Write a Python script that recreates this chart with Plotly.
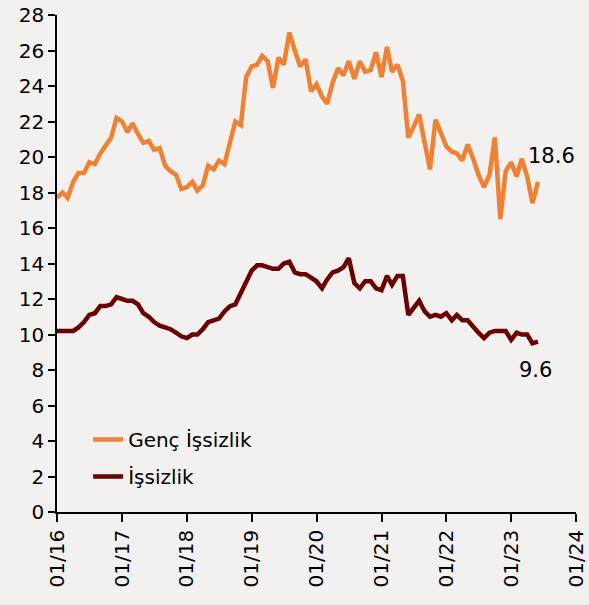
import plotly.graph_objects as go
import pandas as pd

months = pd.date_range("2016-01-01", periods=90, freq="MS")

genc_issizlik = [
    17.7, 18.0, 17.7, 18.6, 19.1, 19.1, 19.7, 19.6, 20.2, 20.7, 21.1, 22.2,
    22.0, 21.4, 21.9, 21.3, 20.8, 20.9, 20.4, 20.5, 19.5, 19.2, 19.0, 18.2,
    18.3, 18.6, 18.1, 18.4, 19.5, 19.3, 19.8, 19.6, 20.8, 22.0, 21.8, 24.5,
    25.1, 25.2, 25.7, 25.4, 23.9, 25.6, 25.2, 27.0, 26.0, 25.1, 25.5, 23.7,
    24.1, 23.4, 23.0, 24.2, 25.0, 24.6, 25.4, 24.4, 25.4, 24.8, 24.9, 25.9,
    24.5, 26.2, 24.8, 25.2, 24.3, 21.1, 21.7, 22.4, 20.8, 19.3, 22.1, 21.3,
    20.6, 20.3, 20.2, 19.8, 20.7, 19.9, 19.0, 18.3, 19.0, 21.1, 16.5, 19.2,
    19.7, 18.9, 19.9, 18.9, 17.4, 18.6,
]

issizlik = [
    10.2, 10.2, 10.2, 10.2, 10.4, 10.7, 11.1, 11.2, 11.6, 11.6, 11.7, 12.1,
    12.0, 11.9, 11.9, 11.7, 11.2, 11.0, 10.7, 10.5, 10.4, 10.3, 10.1, 9.9,
    9.8, 10.0, 10.0, 10.3, 10.7, 10.8, 10.9, 11.3, 11.6, 11.7, 12.3, 12.9,
    13.6, 13.9, 13.9, 13.8, 13.7, 13.7, 14.0, 14.1, 13.5, 13.4, 13.4, 13.2,
    13.0, 12.6, 13.1, 13.5, 13.6, 13.8, 14.3, 12.9, 12.6, 13.0, 13.0, 12.6,
    12.5, 13.3, 12.8, 13.3, 13.3, 11.1, 11.5, 11.9, 11.3, 11.0, 11.1, 11.0,
    11.2, 10.8, 11.1, 10.8, 10.8, 10.4, 10.1, 9.8, 10.1, 10.2, 10.2, 10.2,
    9.7, 10.1, 10.0, 10.0, 9.5, 9.6,
]

tick_dates = [f"{y}-01-01" for y in range(2016, 2025)]
tick_labels = [f"01/{str(y)[2:]}" for y in range(2016, 2025)]

ORANGE = "#F08132"
DARKRED = "#6B0000"
BG = "#F3F1F0"
FONT = "DejaVu Sans"

fig = go.Figure()
fig.add_trace(go.Scatter(
    x=months, y=genc_issizlik, mode="lines", name="Genç İşsizlik",
    line=dict(color=ORANGE, width=4.5), legendgroup="a",
))
fig.add_trace(go.Scatter(
    x=months, y=issizlik, mode="lines", name="İşsizlik",
    line=dict(color=DARKRED, width=4.5), legendgroup="b",
))

fig.add_annotation(x=months[-1], y=genc_issizlik[-1], text=f"{genc_issizlik[-1]:.1f}",
                   showarrow=False, xanchor="left", yanchor="middle",
                   xshift=-12, yshift=26, font=dict(size=21, color="black", family=FONT))
fig.add_annotation(x=months[-1], y=issizlik[-1], text=f"{issizlik[-1]:.1f}",
                   showarrow=False, xanchor="center", yanchor="middle",
                   xshift=-2, yshift=-28, font=dict(size=21, color="black", family=FONT))

fig.update_layout(
    width=589, height=605,
    margin=dict(l=57, r=13, t=15, b=93),
    paper_bgcolor=BG, plot_bgcolor=BG,
    font=dict(family=FONT, size=20, color="black"),
    showlegend=True,
    legend=dict(x=0.06, y=0.185, xanchor="left", yanchor="top",
                bgcolor="rgba(0,0,0,0)", tracegroupgap=8,
                font=dict(size=20, family=FONT)),
    xaxis=dict(
        type="date", range=["2016-01-01", "2024-01-01"], automargin=False,
        tickmode="array", tickvals=tick_dates, ticktext=tick_labels,
        tickangle=-90, ticks="outside", ticklen=8, tickwidth=1.5, tickcolor="black",
        showline=True, linecolor="black", linewidth=1.5,
        showgrid=False, zeroline=False,
        tickfont=dict(size=20, family=FONT),
    ),
    yaxis=dict(
        range=[0, 28], tickmode="array", tickvals=list(range(0, 29, 2)), automargin=False,
        ticks="outside", ticklen=7, tickwidth=1.5, tickcolor="black",
        showline=True, linecolor="black", linewidth=1.5,
        showgrid=False, zeroline=False,
        tickfont=dict(size=20, family=FONT),
    ),
)

fig.write_html(
    "out.html",
    config={"displayModeBar": False},
    post_script="document.body.style.margin='0';document.body.style.background='%s';" % BG,
)
